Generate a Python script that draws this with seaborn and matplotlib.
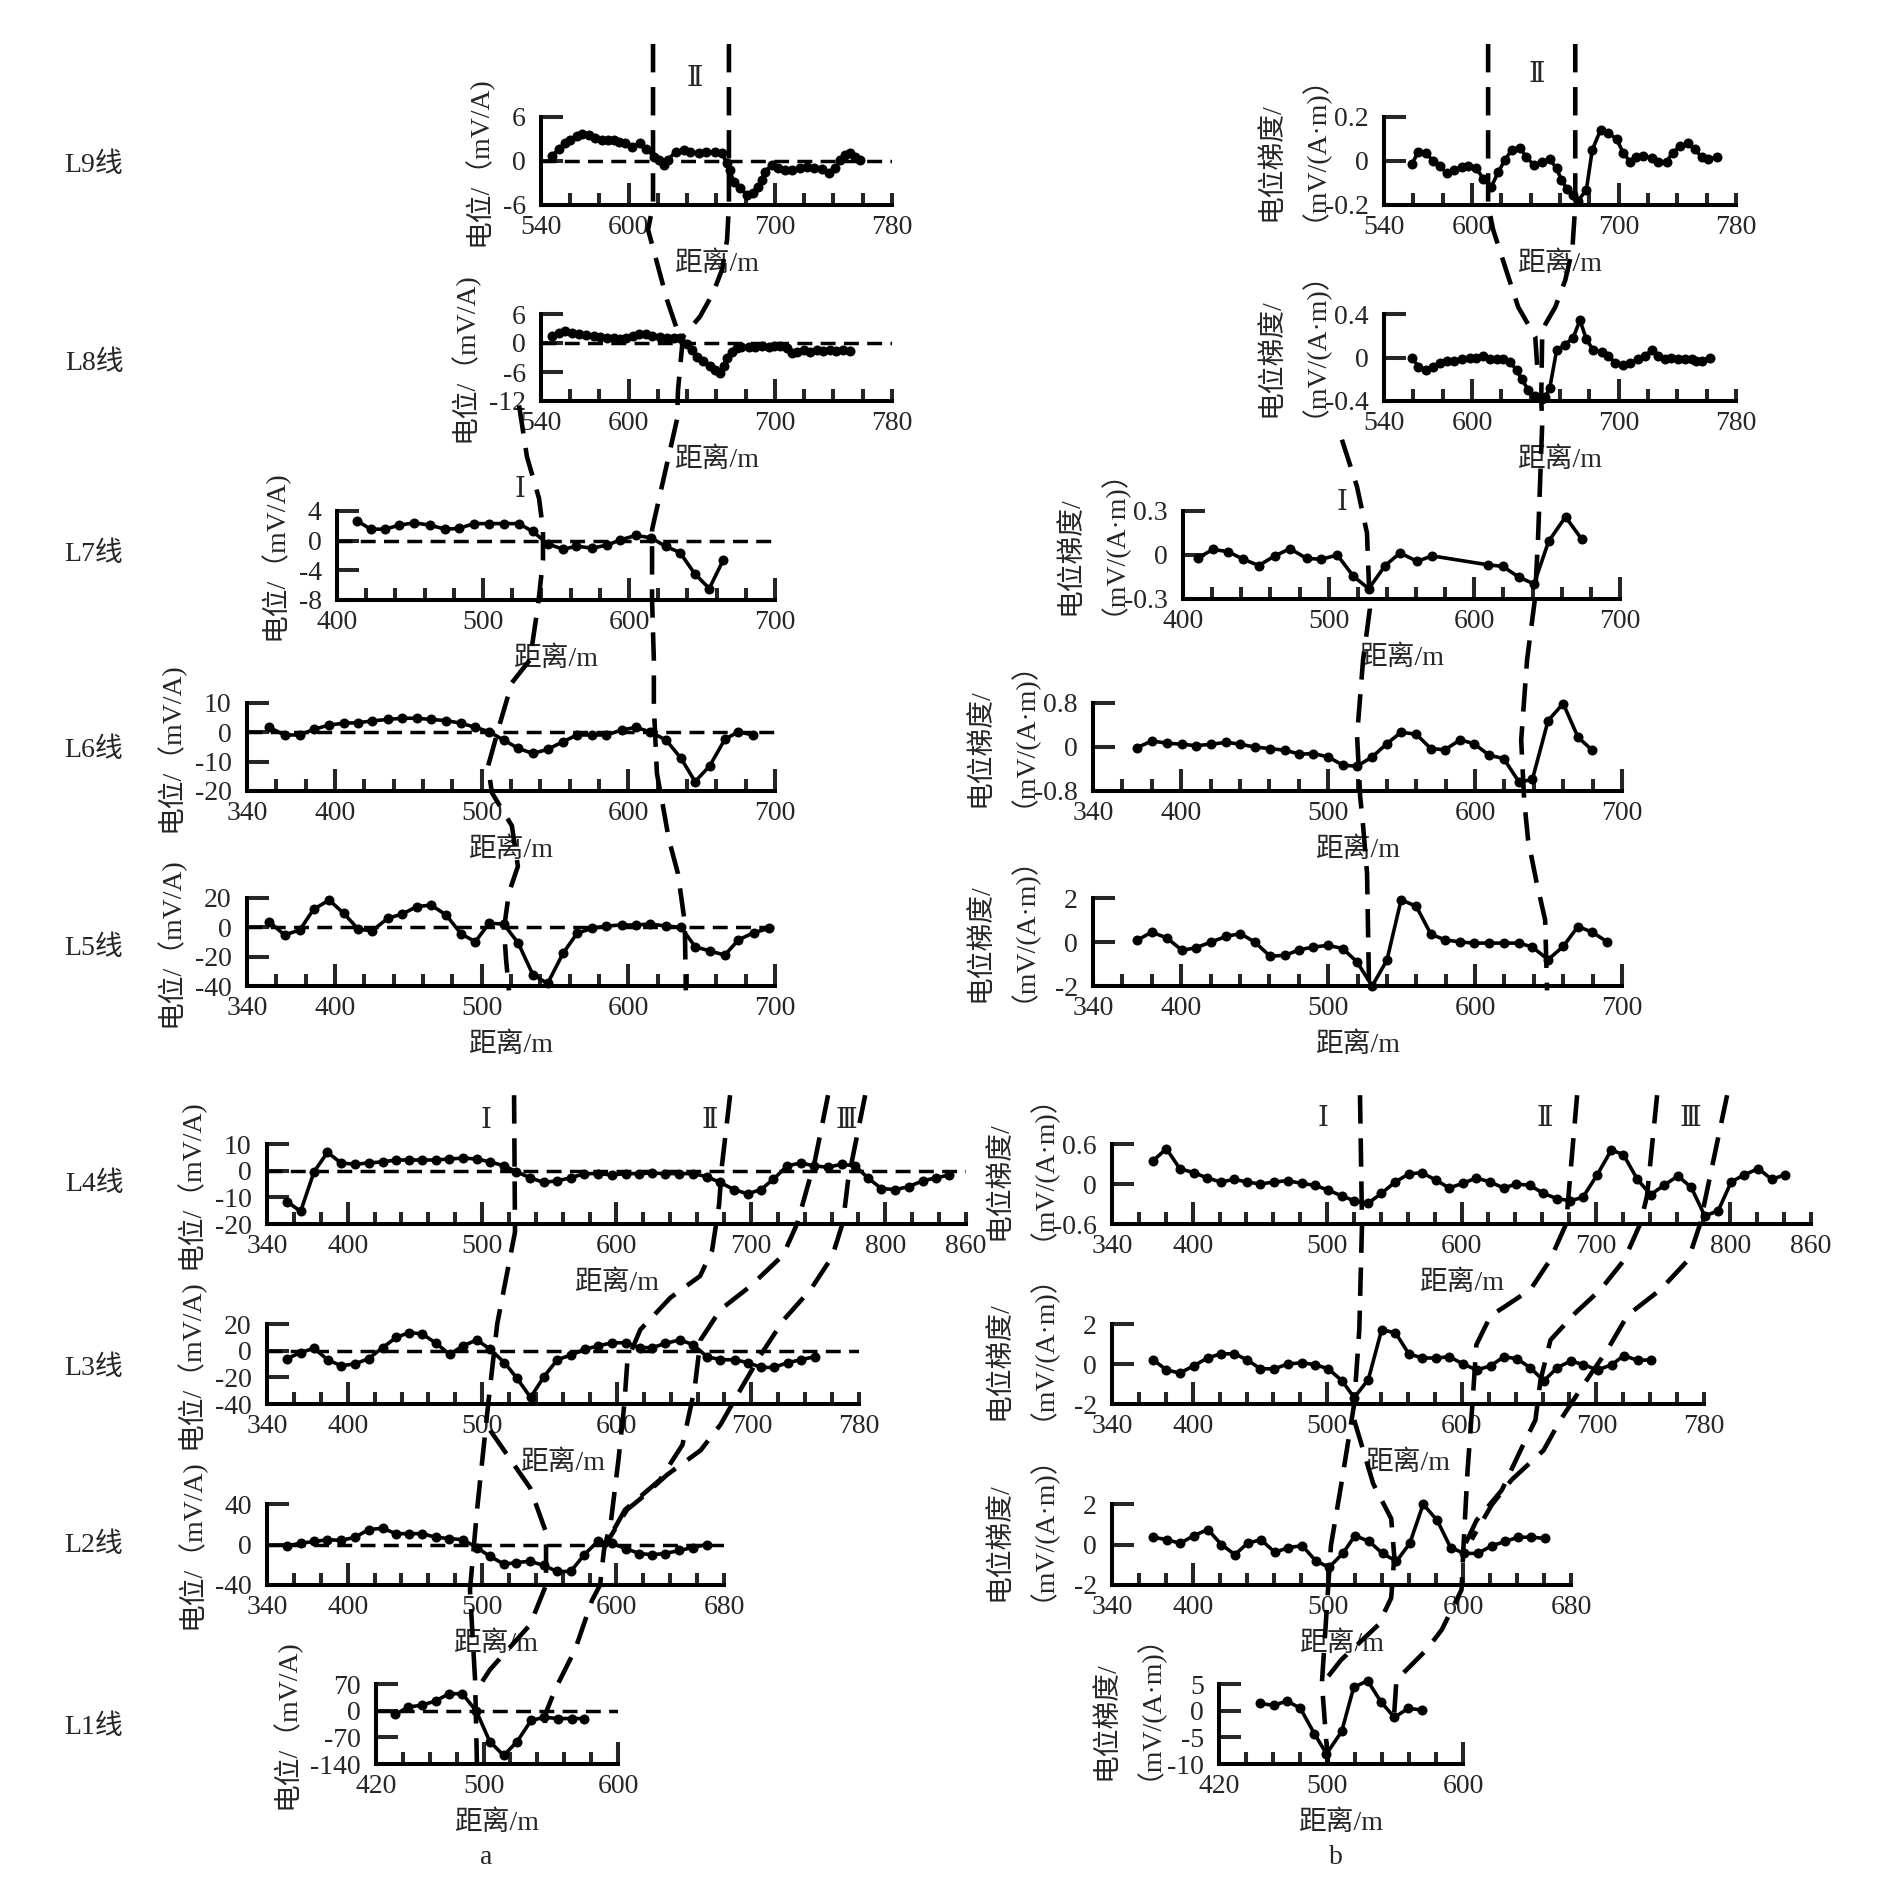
import numpy as np
import pandas as pd
import matplotlib
matplotlib.use("Agg")
import matplotlib.pyplot as plt
import seaborn as sns
from matplotlib.lines import Line2D

sns.set_style("ticks")
plt.rcParams["font.family"] = ["Liberation Serif", "DejaVu Serif", "Noto Sans CJK SC"]

# ---------------------------------------------------------------- data (a: potential, mV/A)
L9a_x = [547.5, 552, 556.6, 560, 564.6, 568, 572.6, 577, 581.7, 586, 589.7, 593, 597.6, 602, 608, 612, 617, 620.4,
         623.8, 627, 632, 637.5, 642, 647.7, 653, 659, 663.7, 667, 669, 671.7, 676, 681, 685, 688.7, 691, 693, 697.9,
         702, 707, 711.5, 717, 721.8, 727, 732, 736.6, 741, 744.5, 748, 751.4, 755, 758]
L9a_y = [0.7, 1.6, 2.4, 2.9, 3.4, 3.75, 3.5, 3.1, 2.85, 2.85, 2.9, 2.6, 2.4, 1.95, 2.4, 1.7, 0.6, 0.15, -0.55, 0.2,
         1.25, 1.5, 1.25, 1.1, 1.2, 1.2, 1.05, -0.3, -1.2, -2.8, -3.7, -4.6, -4.3, -3.5, -2.6, -1.45, -0.55, -1.0,
         -1.2, -1.2, -1.0, -0.8, -1.0, -1.1, -1.6, -1.0, 0.2, 0.8, 1.05, 0.6, 0.2]
L8a_x = [547.5, 552, 556.6, 561, 565.7, 571, 576, 580.5, 585, 589.7, 594, 598, 603, 607, 612, 616, 621.5, 626, 630.6,
         635, 640, 643, 646.6, 651, 655.7, 659, 662.5, 664.8, 667, 670.5, 674, 677, 682, 686.5, 691, 695.6, 699,
         703.5, 708, 711.5, 715, 719.5, 724, 728.6, 733, 737.7, 742, 746.7, 751]
L8a_y = [1.45, 2.15, 2.5, 2.15, 1.8, 1.6, 1.45, 1.3, 1.1, 1.0, 0.75, 1.0, 1.45, 1.95, 1.8, 1.45, 1.25, 1.1, 1.0, 1.1,
         -0.3, -1.5, -2.9, -3.75, -4.8, -5.5, -6.2, -4.8, -3.05, -1.8, -0.95, -0.85, -0.85, -0.75, -0.6, -0.85, -0.7,
         -0.6, -1.1, -2.15, -1.8, -1.5, -1.8, -1.5, -1.65, -1.45, -1.65, -1.5, -1.65]
L7a_x = [413.7, 423, 433, 442.7, 453, 463.5, 474, 483.4, 493.8, 504, 514.5, 524.5, 534, 544.4, 554.8, 564, 574.7, 585,
         594, 604.6, 615, 625, 634.9, 645, 655, 664.7]
L7a_y = [2.7, 1.55, 1.55, 2.1, 2.4, 2.1, 1.55, 1.65, 2.3, 2.3, 2.3, 2.3, 1.25, -0.45, -1.15, -0.75, -1.0, -0.6, 0.1,
         0.7, 0.4, -0.75, -1.6, -4.45, -6.45, -2.55]
L6a_x = [355, 365.6, 376, 385.4, 396, 406, 416, 425.5, 435.8, 446, 455.6, 465.5, 475.8, 486, 495.7, 505, 515, 525, 535,
         545, 555.5, 565, 575, 585, 595.6, 605, 614.6, 625.7, 636, 645.5, 655.4, 665.8, 675, 684.8]
L6a_y = [1.7, -0.9, -0.9, 1.0, 2.5, 3.1, 3.3, 3.9, 4.4, 4.8, 4.8, 4.4, 4.0, 3.1, 1.7, 0.2, -2.6, -5.5, -7.2, -5.8,
         -3.2, -0.9, -0.9, -0.9, 0.8, 1.7, 0.2, -2.6, -8.9, -16.8, -11.5, -2.4, 0.2, -0.9]
L5a_x = [355, 365.6, 376, 385.4, 396, 406, 416, 425.5, 435.8, 446, 455.6, 465.5, 475.8, 486, 495.7, 505, 515, 525, 535,
         545, 555.5, 565, 575, 585, 595.6, 605, 614.6, 625.7, 636, 645.5, 655.4, 665.8, 675, 685.6, 696]
L5a_y = [3.9, -5.2, -1.8, 12.3, 18.6, 9.5, -1.4, -2.3, 6.1, 9.1, 14.1, 15.2, 8.4, -4.5, -9.8, 2.7, 2.3, -10.9, -32.5,
         -38.2, -17.7, -4.1, -0.7, 0.9, 1.6, 1.6, 2.3, 0.9, 0.0, -13.2, -16.1, -18.9, -8.6, -3.6, -0.7]
L4a_x = [355, 365, 375, 385, 395, 405.6, 415.6, 426, 436, 445.4, 455.4, 465.8, 475.7, 485.7, 496, 506, 516.5, 525.5,
         535.9, 545.9, 555.8, 566, 576, 586, 596.6, 607, 617, 626.4, 636, 646.8, 656.7, 667, 677, 687.5, 697.5, 707.4,
         716.5, 727, 737, 747, 757, 767.6, 777.5, 787, 797, 807.4, 817.4, 827.8, 837.7, 847.7]
L4a_y = [-11.6, -15.3, -0.4, 6.9, 2.9, 2.4, 2.9, 3.3, 4.0, 4.0, 4.0, 4.0, 4.4, 4.7, 4.4, 3.3, 1.8, -0.4, -2.7, -4.4,
         -3.8, -2.7, -1.1, -1.1, -1.6, -1.1, -1.1, -0.9, -1.1, -1.1, -1.1, -2.2, -4.4, -7.1, -8.7, -7.1, -3.3, 1.8,
         2.9, 1.8, 1.3, 2.4, 1.8, -2.7, -6.7, -7.1, -6.0, -3.8, -2.7, -1.6]
L3a_x = [355, 365, 375, 385, 395, 405.6, 415.6, 426, 436, 445.4, 455.4, 465.8, 475.7, 485.7, 496, 506, 516.5, 525.5,
         535.9, 545.9, 555.8, 566, 576, 586, 596.6, 607, 617, 626.4, 636, 646.8, 656.7, 667, 677, 687.5, 697.5, 707.4,
         716.5, 727, 737, 747]
L3a_y = [-5.9, -1.4, 1.8, -6.8, -11.3, -9.9, -5.9, 2.3, 9.9, 13.5, 12.6, 5.4, -2.7, 3.6, 8.1, 0.9, -9.0, -20.3, -35.1,
         -19.4, -6.8, -3.2, 0.9, 3.6, 5.9, 5.9, 2.3, 2.3, 5.4, 8.1, 4.5, -4.5, -6.8, -6.8, -9.0, -12.6, -12.6, -9.0,
         -6.8, -4.5]
L2a_x = [355, 365, 375, 385, 395, 405.6, 415.6, 426, 436, 445.4, 455.4, 465.8, 475.7, 485.7, 496, 506, 516.5, 525.5,
         535.9, 545.9, 555.8, 566, 576, 586, 596.6, 607, 617, 626.4, 636, 646.8, 656.7, 667]
L2a_y = [-1.2, 1.2, 3.0, 4.7, 4.1, 7.1, 14.8, 16.0, 10.7, 10.7, 10.7, 7.1, 5.9, 4.7, -3.0, -11.8, -19.5, -17.8, -16.6,
         -20.7, -26.6, -26.6, -10.1, 3.0, 1.2, -4.1, -8.9, -10.1, -8.9, -5.9, -3.0, 0.0]
L1a_x = [434.5, 444, 454, 464.3, 474.3, 484.2, 494.7, 504.6, 515, 525, 535.4, 545.3, 555.7, 565.7, 574.7]
L1a_y = [-9.5, 9.5, 14.3, 25.4, 44.5, 44.5, -1.6, -81, -117.6, -81, -25.4, -17.5, -20.7, -20.7, -20.7]

# ---------------------------------------------------------------- data (b: potential gradient, mV/(A*m))
L9b_x = [559, 563.4, 568.6, 573.6, 578, 583, 588, 593, 597.5, 603, 607.7, 613, 618, 622.5, 627, 632.7, 637, 642,
         647.5, 653, 657.7, 661, 664.5, 669, 672.5, 678, 682, 687.7, 693, 698.6, 703, 707.7, 712, 716.8, 722.5, 727,
         732.7, 736.8, 741.8, 747.5, 752, 756.6, 761, 766.8]
L9b_y = [-0.015, 0.043, 0.035, 0.0, -0.023, -0.056, -0.041, -0.026, -0.023, -0.034, -0.08, -0.12, -0.049, 0.005,
         0.05, 0.058, 0.02, -0.018, -0.003, 0.008, -0.034, -0.087, -0.125, -0.156, -0.18, -0.13, 0.05, 0.142, 0.127,
         0.1, 0.038, -0.003, 0.017, 0.023, 0.015, -0.003, -0.003, 0.038, 0.066, 0.08, 0.053, 0.017, 0.008, 0.017]
L8b_x = [559, 563.4, 568.6, 573.6, 578, 583, 588, 593, 598.6, 603, 607.7, 612, 616.8, 621.4, 626, 630.5, 633.9, 638.5,
         643, 647.5, 649.8, 653, 657.7, 663.4, 669, 673.6, 678, 682.7, 688.4, 693, 697.5, 703, 707.7, 713.4, 718,
         722.5, 727, 731.6, 736, 740.7, 745, 749.8, 753, 756.6, 762]
L8b_y = [0.0, -0.083, -0.117, -0.083, -0.05, -0.033, -0.033, -0.017, 0.0, 0.0, 0.01, -0.01, -0.01, -0.017, -0.043,
         -0.117, -0.2, -0.3, -0.35, -0.383, -0.367, -0.283, 0.067, 0.117, 0.183, 0.343, 0.167, 0.067, 0.05, 0.017,
         -0.05, -0.067, -0.05, -0.017, 0.017, 0.067, 0.01, -0.017, 0.0, -0.017, -0.01, -0.017, -0.033, -0.033, 0.0]
L7b_x = [410, 420.4, 430.8, 441.5, 452, 463, 473.5, 484.8, 495, 505.9, 517, 527.5, 538.8, 549, 560.8, 571, 609.4,
         619.7, 630.5, 641, 651, 662.6, 673.8]
L7b_y = [-0.023, 0.038, 0.023, -0.029, -0.072, -0.006, 0.043, -0.023, -0.029, 0.0, -0.145, -0.23, -0.072, 0.014,
         -0.043, -0.006, -0.067, -0.078, -0.151, -0.197, 0.093, 0.26, 0.107]
L6b_x = [370, 380, 390.3, 400.7, 410, 420.5, 430.8, 440.3, 450, 460.6, 471, 480.5, 490, 500, 510, 519.6, 530, 540,
         549.7, 560, 570, 579.5, 589.9, 599.3, 609.6, 619.5, 630, 639, 649.7, 660, 670, 679.8]
L6b_y = [-0.012, 0.11, 0.07, 0.05, 0.024, 0.05, 0.085, 0.05, 0.0, -0.03, -0.06, -0.13, -0.12, -0.18, -0.33, -0.35,
         -0.18, 0.06, 0.27, 0.23, -0.03, -0.05, 0.13, 0.06, -0.15, -0.21, -0.64, -0.59, 0.48, 0.79, 0.18, -0.06]
L5b_x = [370, 380, 390.3, 400.7, 410, 420.5, 430.8, 440.3, 450, 460.6, 471, 480.5, 490, 500, 510, 519.6, 530, 540,
         549.7, 560, 570, 579.5, 589.9, 599.3, 609.6, 619.5, 630, 639, 649.7, 660, 670, 679.8, 690]
L5b_y = [0.08, 0.45, 0.18, -0.38, -0.26, 0.0, 0.26, 0.38, 0.0, -0.65, -0.6, -0.35, -0.23, -0.15, -0.3, -0.9, -2.0,
         -0.83, 1.92, 1.62, 0.35, 0.1, 0.0, -0.05, -0.05, -0.05, -0.05, -0.23, -0.8, -0.2, 0.7, 0.45, 0.0]
L4b_x = [370.6, 380.5, 390.4, 400.8, 411, 421, 431, 440.4, 450.3, 460.7, 470.6, 481, 490.8, 500.7, 511, 520, 530.5,
         540.4, 550.7, 560.6, 570.5, 580.9, 590.8, 601, 611, 621.4, 631.3, 640.8, 650.7, 661, 671, 681, 690.3, 701,
         711.5, 720.5, 730.8, 740.7, 750.6, 761, 770.9, 781, 791, 800.6, 810.5, 820.9, 830.8, 841]
L4b_y = [0.35, 0.53, 0.23, 0.17, 0.09, 0.03, 0.07, 0.03, 0.0, 0.03, 0.05, 0.01, -0.02, -0.09, -0.18, -0.25, -0.29,
         -0.14, 0.03, 0.15, 0.17, 0.06, -0.06, 0.01, 0.09, 0.03, -0.06, 0.0, -0.02, -0.14, -0.22, -0.25, -0.2, 0.14,
         0.51, 0.44, 0.07, -0.16, -0.02, 0.12, -0.05, -0.48, -0.4, 0.03, 0.14, 0.23, 0.07, 0.14]
L3b_x = [370.6, 380.5, 390.4, 400.8, 411, 421, 431, 440.4, 450.3, 460.7, 470.6, 481, 490.8, 500.7, 511, 520, 530.5,
         540.4, 550.7, 560.6, 570.5, 580.9, 590.8, 601, 611, 621.4, 631.3, 640.8, 650.7, 661, 671, 681, 690.3, 701,
         711.5, 720.5, 730.8, 740.7]
L3b_y = [0.21, -0.3, -0.45, -0.09, 0.3, 0.51, 0.51, 0.21, -0.24, -0.24, 0.0, 0.06, -0.03, -0.24, -0.84, -1.68, -0.78,
         1.71, 1.56, 0.51, 0.3, 0.3, 0.36, 0.0, -0.3, -0.09, 0.36, 0.27, -0.18, -0.84, -0.18, 0.15, -0.03, -0.3,
         -0.03, 0.42, 0.18, 0.21]
L2b_x = [370.6, 380.5, 390.4, 400.8, 411, 421, 431, 440.4, 450.3, 460.7, 470.6, 481, 490.8, 500.7, 511, 520, 530.5,
         540.4, 550.7, 560.6, 570.5, 580.9, 590.8, 601, 611, 621.4, 631.3, 640.8, 650.7, 661]
L2b_y = [0.36, 0.24, 0.06, 0.44, 0.74, 0.0, -0.5, 0.06, 0.24, -0.39, -0.15, -0.06, -0.8, -1.13, -0.44, 0.44, 0.15,
         -0.44, -0.83, 0.06, 1.99, 1.19, -0.15, -0.44, -0.44, -0.06, 0.15, 0.36, 0.36, 0.3]
L1b_x = [450, 460.3, 470.2, 480, 490.3, 499.3, 510.5, 519.4, 529.7, 539.6, 549.4, 559.7, 570]
L1b_y = [1.36, 1.0, 1.8, 0.45, -4.3, -8.1, -3.9, 4.4, 5.6, 1.6, -1.25, 0.45, 0.1]

# ---------------------------------------------------------------- axis ticks / labels
X_LABELS = {
    "540_780": [540, 600, 700, 780],
    "400_700": [400, 500, 600, 700],
    "340_700": [340, 400, 500, 600, 700],
    "340_860": [340, 400, 500, 600, 700, 800, 860],
    "340_780": [340, 400, 500, 600, 700, 780],
    "340_680": [340, 400, 500, 600, 680],
    "420_600": [420, 500, 600],
}
Y_TICKS = {
    "L9a": ["-6", "0", "6"], "L8a": ["-12", "-6", "0", "6"], "L7a": ["-8", "-4", "0", "4"],
    "L6a": ["-20", "-10", "0", "10"], "L5a": ["-40", "-20", "0", "20"], "L4a": ["-20", "-10", "0", "10"],
    "L3a": ["-40", "-20", "0", "20"], "L2a": ["-40", "0", "40"], "L1a": ["-140", "-70", "0", "70"],
    "L9b": ["-0.2", "0", "0.2"], "L8b": ["-0.4", "0", "0.4"], "L7b": ["-0.3", "0", "0.3"],
    "L6b": ["-0.8", "0", "0.8"], "L5b": ["-2", "0", "2"], "L4b": ["-0.6", "0", "0.6"],
    "L3b": ["-2", "0", "2"], "L2b": ["-2", "0", "2"], "L1b": ["-10", "-5", "0", "5"],
}
XLAB = "距离/m"
YLAB_A = "电位/（mV/A)"
YLAB_B = "电位梯度/\n（mV/(A·m)）"
ROW_NAMES = ["L9线", "L8线", "L7线", "L6线", "L5线", "L4线", "L3线", "L2线", "L1线"]
SERIES = {
    "L9a": (L9a_x, L9a_y), "L8a": (L8a_x, L8a_y), "L7a": (L7a_x, L7a_y), "L6a": (L6a_x, L6a_y),
    "L5a": (L5a_x, L5a_y), "L4a": (L4a_x, L4a_y), "L3a": (L3a_x, L3a_y), "L2a": (L2a_x, L2a_y),
    "L1a": (L1a_x, L1a_y), "L9b": (L9b_x, L9b_y), "L8b": (L8b_x, L8b_y), "L7b": (L7b_x, L7b_y),
    "L6b": (L6b_x, L6b_y), "L5b": (L5b_x, L5b_y), "L4b": (L4b_x, L4b_y), "L3b": (L3b_x, L3b_y),
    "L2b": (L2b_x, L2b_y), "L1b": (L1b_x, L1b_y),
}

# ---------------------------------------------------------------- layout (pixel boxes: left, right, top, bottom)
W, H = 1890, 1878
BOX = {
    "L9a": (541, 892, 117, 205, "540_780"), "L8a": (541, 892, 314, 401, "540_780"),
    "L7a": (337, 775, 511, 600, "400_700"), "L6a": (247, 775, 703, 791, "340_700"),
    "L5a": (247, 775, 898, 986, "340_700"), "L4a": (267, 966, 1144, 1224, "340_860"),
    "L3a": (267, 859, 1324, 1404, "340_780"), "L2a": (267, 724, 1504, 1585, "340_680"),
    "L1a": (376, 618, 1684, 1764, "420_600"),
    "L9b": (1384, 1736, 117, 205, "540_780"), "L8b": (1384, 1736, 314, 401, "540_780"),
    "L7b": (1183, 1620, 511, 599, "400_700"), "L6b": (1093, 1622, 703, 791, "340_700"),
    "L5b": (1093, 1622, 898, 986, "340_700"), "L4b": (1112, 1811, 1144, 1224, "340_860"),
    "L3b": (1112, 1704, 1324, 1404, "340_780"), "L2b": (1112, 1571, 1504, 1585, "340_680"),
    "L1b": (1219, 1463, 1684, 1764, "420_600"),
}
ROW_Y = [165, 363, 554, 750, 948, 1184, 1368, 1545, 1727]
FS = 20
SPINE_W = 2.9
YLAB_B_OFF = (98, 16)   # px: block centre left of spine, drop of block bottom below axis

fig = plt.figure(figsize=(W / 100, H / 100), dpi=100)
axes = {}
for key, (l, r, t, b, xr) in BOX.items():
    ax = fig.add_axes([l / W, 1 - b / H, (r - l) / W, (b - t) / H])
    axes[key] = ax
    xs, ys = SERIES[key]
    df = pd.DataFrame({"distance": xs, "value": ys})
    labels = X_LABELS[xr]
    x0, x1 = labels[0], labels[-1]
    yt = [float(v) for v in Y_TICKS[key]]
    if key.endswith("a"):
        ax.axhline(0, color="black", lw=2.5, dashes=(4.3, 2.4), zorder=1)
    sns.lineplot(data=df, x="distance", y="value", ax=ax, color="black", linewidth=2.6, marker="o",
                 markersize=7.2, markeredgecolor="black", markeredgewidth=0, estimator=None, sort=False,
                 clip_on=False, zorder=3)
    ax.set_xlim(x0, x1)
    ax.set_ylim(yt[0], yt[-1])
    major = [v for v in labels if v % 100 == 0]
    minor = [v for v in range(x0, x1 + 1, 20) if v not in major]
    ax.set_xticks(major, [str(v) for v in major])
    ax.set_xticks(minor, [str(v) if v in labels else "" for v in minor], minor=True)
    ax.set_yticks(yt, Y_TICKS[key])
    ax.tick_params(axis="x", which="major", direction="in", length=15.5, width=SPINE_W, pad=7, labelsize=FS)
    ax.tick_params(axis="x", which="minor", direction="in", length=8.5, width=SPINE_W, pad=7, labelsize=FS)
    ax.tick_params(axis="y", which="major", direction="in", length=15.5, width=SPINE_W, pad=11, labelsize=FS)
    for s in ("top", "right"):
        ax.spines[s].set_visible(False)
    for s in ("left", "bottom"):
        ax.spines[s].set_linewidth(SPINE_W)
        ax.spines[s].set_color("black")
    ax.set_facecolor("none")
    ax.set_xlabel(XLAB, fontsize=FS, labelpad=8)
    if key.endswith("a"):
        ax.set_ylabel(YLAB_A, fontsize=FS, labelpad=7)
    else:
        ax.set_ylabel("")
        wpx, hpx = r - l, b - t
        ax.text(-YLAB_B_OFF[0] / wpx, -YLAB_B_OFF[1] / hpx, YLAB_B, transform=ax.transAxes, rotation=90,
                ha="center", va="bottom", multialignment="left", linespacing=1.0, fontsize=FS)

for name, y in zip(ROW_NAMES, ROW_Y):
    fig.text(94 / W, 1 - y / H, name, ha="center", va="center", fontsize=FS)

# roman numerals and sub-figure letters
ROMAN = [("Ⅱ", 695, 80), ("Ⅰ", 520, 491), ("Ⅱ", 1537, 76), ("Ⅰ", 1342, 503),
         ("Ⅰ", 486, 1122), ("Ⅱ", 710, 1122), ("Ⅲ", 846, 1122),
         ("Ⅰ", 1323, 1120), ("Ⅱ", 1545, 1120), ("Ⅲ", 1690, 1120)]
for txt, x, y in ROMAN:
    fig.text(x / W, 1 - y / H, txt, ha="center", va="center", fontsize=FS)
fig.text(486 / W, 1 - 1857 / H, "a", ha="center", va="center", fontsize=FS)
fig.text(1336 / W, 1 - 1857 / H, "b", ha="center", va="center", fontsize=FS)

# ---------------------------------------------------------------- interpreted anomaly traces
# each point: (panel, distance along that panel, height as fraction of that panel)
TRACES = [
    [("L9a", 616.6, 1.83), ("L9a", 616.6, 0.0), ("L9a", 613.2, -0.28), ("L8a", 619.3, 1.59),
     ("L8a", 626.2, 1.16), ("L8a", 637.1, 0.62)],
    [("L9a", 668.5, 1.83), ("L9a", 668.5, 0.0), ("L8a", 667.2, 1.85), ("L8a", 663.8, 1.51), ("L8a", 657.6, 1.24),
     ("L8a", 648.7, 0.97), ("L8a", 637.1, 0.74), ("L8a", 633.7, 0.13), ("L8a", 633.0, -0.21),
     ("L7a", 615.8, 0.79), ("L7a", 615.8, 0.0), ("L6a", 617.4, 1.49), ("L6a", 617.4, 0.96), ("L6a", 619.5, 0.2),
     ("L6a", 623.6, -0.17), ("L5a", 627.7, 1.66), ("L5a", 633.8, 1.28), ("L5a", 638.5, 0.72),
     ("L5a", 639.2, -0.05)],
    [("L8a", 525.0, -0.05), ("L7a", 530.1, 1.61), ("L7a", 538.4, 1.14), ("L7a", 541.1, 0.79), ("L7a", 541.1, 0.45),
     ("L7a", 537.7, -0.06), ("L6a", 532.9, 1.49), ("L6a", 520.6, 1.23), ("L6a", 512.5, 0.77), ("L6a", 504.3, 0.28),
     ("L6a", 507.0, -0.02), ("L5a", 520.6, 1.82), ("L5a", 524.7, 1.36), ("L5a", 518.6, 1.06), ("L5a", 515.2, 0.65),
     ("L5a", 516.6, 0.31), ("L5a", 518.6, -0.05)],
    [("L9b", 611.0, 1.83), ("L9b", 611.0, 0.0), ("L8b", 614.4, 1.97), ("L8b", 622.6, 1.54), ("L8b", 631.5, 1.08),
     ("L8b", 643.1, 0.74), ("L8b", 644.5, 0.39)],
    [("L9b", 670.4, 1.83), ("L9b", 670.4, 0.0), ("L8b", 668.4, 1.74), ("L8b", 663.6, 1.39), ("L8b", 656.8, 1.08),
     ("L8b", 647.9, 0.82), ("L8b", 647.2, 0.01), ("L8b", 647.9, -0.25), ("L7b", 643.7, 0.67), ("L7b", 641.6, 0.0),
     ("L6b", 635.4, 1.49), ("L6b", 631.4, 0.58), ("L6b", 633.4, -0.1), ("L5b", 636.1, 1.66), ("L5b", 641.6, 1.2),
     ("L5b", 647.7, 0.75), ("L5b", 649.0, -0.05)],
    [("L7b", 509.1, 1.81), ("L7b", 519.4, 1.28), ("L7b", 526.3, 0.75), ("L7b", 528.3, -0.11), ("L6b", 523.8, 1.49),
     ("L6b", 519.7, 0.63), ("L6b", 521.8, -0.06), ("L5b", 523.8, 1.82), ("L5b", 526.5, 1.28),
     ("L5b", 527.9, -0.05)],
    # lower group, a
    [("L4a", 523.8, 1.61), ("L4a", 524.5, -0.1), ("L3a", 511.1, 1.0), ("L3a", 504.4, 0.0), ("L2a", 496.3, 0.93),
     ("L2a", 491.0, -0.06), ("L1a", 493.7, 1.05), ("L1a", 495.1, -0.01)],
    [("L3a", 505.9, -0.33), ("L2a", 535.7, 1.2), ("L2a", 547.6, 0.65), ("L2a", 547.6, 0.0), ("L1a", 534.6, 1.74),
     ("L1a", 504.8, 1.18), ("L1a", 495.1, 0.93)],
    [("L4a", 684.5, 1.61), ("L4a", 678.5, 0.74), ("L4a", 676.3, 0.24), ("L4a", 671.1, -0.33), ("L4a", 662.2, -0.65),
     ("L3a", 639.9, 1.33), ("L3a", 617.5, 0.93), ("L3a", 607.9, 0.55), ("L3a", 605.6, 0.0), ("L3a", 601.2, -0.7),
     ("L2a", 596.0, 0.8), ("L2a", 590.7, 0.43), ("L2a", 587.8, 0.0), ("L2a", 581.8, -0.19), ("L1a", 568.1, 1.43),
     ("L1a", 553.2, 0.93), ("L1a", 545.7, 0.61), ("L1a", 545.7, 0.36)],
    [("L4a", 757.4, 1.61), ("L4a", 747.7, 0.8), ("L4a", 734.3, 0.0), ("L4a", 723.9, -0.39), ("L4a", 699.4, -0.78),
     ("L3a", 677.0, 1.18), ("L3a", 662.2, 0.8), ("L3a", 657.7, 0.18), ("L3a", 648.8, -0.51), ("L2a", 632.4, 1.3),
     ("L2a", 606.4, 0.93), ("L2a", 591.5, 0.49)],
    [("L4a", 785.0, 1.61), ("L4a", 772.3, 0.55), ("L4a", 768.6, 0.03), ("L4a", 760.4, -0.41), ("L3a", 744.0, 1.43),
     ("L3a", 723.9, 1.05), ("L3a", 706.8, 0.61), ("L3a", 691.9, 0.18), ("L3a", 677.0, -0.26), ("L3a", 662.2, -0.58),
     ("L2a", 637.6, 1.36), ("L2a", 617.5, 1.06), ("L2a", 607.9, 0.93), ("L2a", 591.5, 0.49)],
    # lower group, b
    [("L4b", 524.5, 1.61), ("L4b", 526.0, 0.0), ("L3b", 523.8, 0.93), ("L3b", 520.0, 0.0), ("L2b", 510.4, 1.3),
     ("L2b", 502.2, 0.49), ("L2b", 500.0, -0.06), ("L1b", 495.9, 1.01), ("L1b", 500.4, 0.0)],
    [("L3b", 520.0, -0.2), ("L2b", 533.5, 1.25), ("L2b", 546.8, 0.82), ("L2b", 549.1, 0.35), ("L2b", 546.8, -0.16),
     ("L1b", 537.6, 1.74), ("L1b", 510.0, 1.3), ("L1b", 496.6, 1.01)],
    [("L4b", 686.0, 1.61), ("L4b", 677.8, 0.0), ("L4b", 665.9, -0.45), ("L3b", 651.0, 1.43), ("L3b", 621.3, 1.1),
     ("L3b", 610.8, 0.74), ("L3b", 607.9, 0.0), ("L2b", 603.4, 1.42), ("L2b", 600.4, 0.49), ("L2b", 598.9, -0.06),
     ("L1b", 584.4, 1.68), ("L1b", 573.2, 1.43), ("L1b", 550.9, 1.05), ("L1b", 548.7, 0.49)],
    [("L4b", 745.5, 1.61), ("L4b", 738.0, 0.35), ("L4b", 732.9, 0.0), ("L4b", 721.0, -0.45), ("L3b", 703.1, 1.43),
     ("L3b", 684.5, 1.14), ("L3b", 665.9, 0.8), ("L3b", 658.5, 0.3), ("L3b", 654.7, -0.2), ("L3b", 643.6, -0.58),
     ("L2b", 628.7, 1.17), ("L2b", 610.1, 0.8), ("L2b", 601.2, 0.49)],
    [("L4b", 797.6, 1.61), ("L4b", 781.2, 0.3), ("L4b", 777.5, 0.0), ("L4b", 768.6, -0.45), ("L3b", 747.7, 1.43),
     ("L3b", 723.2, 1.11), ("L3b", 708.3, 0.68), ("L3b", 690.4, 0.24), ("L3b", 673.3, -0.2), ("L3b", 660.7, -0.58),
     ("L2b", 636.1, 1.3), ("L2b", 621.3, 0.99), ("L2b", 606.4, 0.56)],
]

inv = fig.transFigure.inverted()
for trace in TRACES:
    pts = []
    for key, m, f in trace:
        ax = axes[key]
        xd = ax.transData.transform((m, 0))[0]
        yd = ax.transAxes.transform((0, f))[1]
        pts.append((xd, yd))
    pf = inv.transform(np.array(pts))
    fig.add_artist(Line2D(pf[:, 0], pf[:, 1], transform=fig.transFigure, color="black", lw=3.3,
                          dashes=(6.2, 3.2), zorder=10))

fig.savefig("out.png", dpi=100, facecolor="white")
